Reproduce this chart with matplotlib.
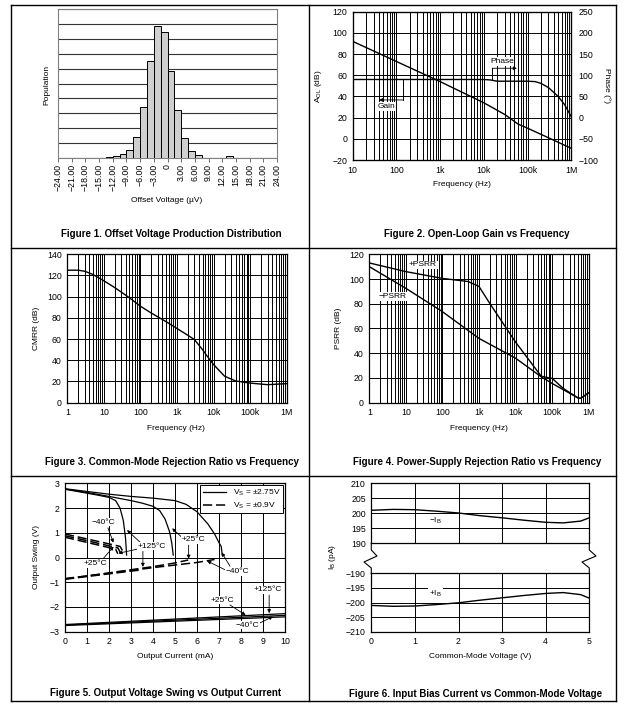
import numpy as np
import matplotlib
matplotlib.use('Agg')
import matplotlib.pyplot as plt
from matplotlib.lines import Line2D
from matplotlib.ticker import FixedLocator, NullFormatter

plt.rcParams['font.family'] = ['Liberation Sans', 'DejaVu Sans']
plt.rcParams['font.size'] = 6
plt.rcParams['xtick.labelsize'] = 6.3
plt.rcParams['ytick.labelsize'] = 6.3
plt.rcParams['mathtext.fontset'] = 'custom'
plt.rcParams['mathtext.rm'] = 'Liberation Sans'
plt.rcParams['mathtext.it'] = 'Liberation Sans'

# Figure 1 : offset voltage histogram
offset_centers = [-12.75, -11.25, -9.75, -8.25, -6.75, -5.25, -3.75, -2.25, -0.75,
                  0.75, 2.25, 3.75, 5.25, 6.75, 13.5]
offset_counts = [0.08, 0.12, 0.27, 0.5, 1.4, 3.4, 6.5, 8.85, 8.5,
                 5.85, 3.2, 1.3, 0.47, 0.15, 0.13]
offset_ticks = [-24, -21, -18, -15, -12, -9, -6, -3, 0, 3, 6, 9, 12, 15, 18, 21, 24]
offset_labels = ['\u221224.00', '\u221221.00', '\u221218.00', '\u221215.00', '\u221212.00',
                 '\u22129.00', '\u22126.00', '\u22123.00', '0', '3.00', '6.00', '9.00',
                 '12.00', '15.00', '18.00', '21.00', '24.00']

# Figure 2 : open-loop gain / phase
gain_freq = [10, 100, 1e3, 1e4, 3e4, 6e4, 1e5, 3e5, 1e6]
gain_db = [92, 73, 54, 34, 23, 14, 10, 1, -9]
phase_freq = [10, 1e3, 1e4, 1.4e4, 2e4, 5e4, 1e5, 1.5e5, 2e5, 3e5, 5e5, 7e5, 1e6]
phase_deg = [90, 90, 90, 89, 86, 86, 86, 85, 81, 71, 50, 31, 2]

# Figure 3 : CMRR
cmrr_freq = [1, 2, 3, 5, 10, 20, 50, 100, 200, 500, 1e3, 2e3, 3e3, 5e3, 7e3, 1e4,
             2e4, 4e4, 1e5, 3e5, 1e6]
cmrr_db = [125, 125, 124, 121, 115, 108.5, 99, 91, 84.5, 76.5, 70, 63.5, 59.5, 50, 43, 36,
           25, 20.5, 18.5, 17, 18]

# Figure 4 : PSRR
psrr_freq = [1, 10, 100, 500, 1e3, 2e3, 1e4, 5e4, 7e4, 1e5, 2e5, 5e5, 6e5, 1e6]
psrr_pos = [113, 106, 100.5, 98, 94, 80, 49, 21.5, 20.5, 19.7, 11.6, 4, 3.5, 8]
psrr_neg_freq = [1, 10, 100, 1e3, 1e4, 5e4, 1e5, 5e5, 6e5, 1e6]
psrr_neg = [110, 92.5, 73.6, 52, 36, 21, 15.6, 4, 3.5, 8]

# Figure 5 : output swing vs output current
i_hot = [0, 0.5, 1, 1.5, 2, 2.3, 2.5, 2.65, 2.75, 2.8]
v_hot = [2.76, 2.68, 2.6, 2.52, 2.43, 2.3, 2.0, 1.5, 0.8, 0.1]
i_room = [0, 1, 2, 3, 3.5, 4, 4.3, 4.55, 4.75, 4.85, 4.92]
v_room = [2.77, 2.63, 2.47, 2.3, 2.2, 2.07, 1.9, 1.55, 1.05, 0.6, 0.1]
i_cold = [0, 1, 2, 3, 4, 5, 5.5, 6, 6.5, 6.8, 7.0, 7.1, 7.15]
v_cold = [2.78, 2.67, 2.56, 2.47, 2.4, 2.3, 2.15, 1.85, 1.35, 0.95, 0.6, 0.45, 0.1]
i_lo_cold = [0, 1, 2, 2.5, 2.7]
v_lo_cold = [0.95, 0.75, 0.55, 0.45, 0.15]
i_lo_room = [0, 1, 2, 2.4, 2.55]
v_lo_room = [0.88, 0.68, 0.47, 0.39, 0.15]
i_lo_hot = [0, 1, 2, 2.3, 2.4]
v_lo_hot = [0.82, 0.61, 0.4, 0.34, 0.15]
i_lon_hot = [0, 1, 2, 3, 3.5]
v_lon_hot = [-0.88, -0.77, -0.66, -0.55, -0.5]
i_lon_room = [0, 2, 4, 5, 5.6]
v_lon_room = [-0.87, -0.62, -0.37, -0.22, -0.1]
i_lon_cold = [0, 2, 4, 6, 6.8]
v_lon_cold = [-0.85, -0.64, -0.41, -0.2, -0.08]
i_neg = [0, 10]
v_neg_hot = [-2.71, -2.27]
v_neg_room = [-2.73, -2.34]
v_neg_cold = [-2.75, -2.4]

# Figure 6 : input bias current
vcm = [0, 0.5, 1, 1.5, 2, 2.5, 3, 3.5, 4, 4.4, 4.8, 5]
ib_minus = [201, 201.3, 201.2, 200.7, 200.1, 199.2, 198.5, 197.7, 197.0, 196.8, 197.4, 198.5]
ib_plus = [-201, -201.3, -201.2, -200.7, -200.1, -199.2, -198.4, -197.6, -196.9, -196.6, -197.3, -198.5]

W, H = 624, 715
fig = plt.figure(figsize=(W / 100, H / 100), dpi=100)


def box(l, t, r, b):
    return fig.add_axes([l / W, 1 - b / H, (r - l) / W, (b - t) / H])


def fline(xs, ys, lw=1.0):
    fig.add_artist(Line2D([x / W for x in xs], [1 - y / H for y in ys],
                          transform=fig.transFigure, color='k', lw=lw))


def ftext(x, y, s, **kw):
    fig.text(x / W, 1 - y / H, s, ha='center', va='center', **kw)


def arrow(ax, xy, xytext):
    ax.annotate('', xy=xy, xytext=xytext,
                arrowprops=dict(arrowstyle='-|>', color='k', lw=0.6, mutation_scale=5,
                                shrinkA=0, shrinkB=0))


WHITE = dict(facecolor='white', edgecolor='none', pad=0.6)

# outer table lines
fline([11, 616], [5, 5])
fline([11, 616], [248, 248])
fline([11, 616], [476, 476])
fline([11, 616], [701, 701])
fline([11, 11], [5, 701])
fline([616, 616], [5, 701])
fline([309, 309], [5, 701])

# ---------- Figure 1
ax1 = box(58, 9.3, 277, 157.7)
ax1.bar(offset_centers, offset_counts, width=1.5, color='#cfcfcf', edgecolor='k', lw=0.7, zorder=3)
ax1.set_xlim(-24, 24)
ax1.set_ylim(0, 10)
ax1.set_yticks(range(0, 11))
ax1.set_yticklabels([])
ax1.tick_params(axis='y', length=0)
ax1.set_xticks(offset_ticks)
ax1.set_xticklabels(offset_labels, rotation=90)
ax1.tick_params(axis='x', direction='out', length=3, width=0.6, color='#555555', pad=1.5)
ax1.grid(axis='y', color='#333333', lw=0.8)
ax1.set_axisbelow(True)
for s in ax1.spines.values():
    s.set_color('#808080')
ftext(46.5, 85, 'Population', rotation=90)
ftext(167, 201, 'Offset Voltage (\u00b5V)')
ftext(171, 234, 'Figure 1. Offset Voltage Production Distribution', fontsize=7, fontweight='bold')


def log_grid(ax, lo, hi, labels):
    ax.set_xscale('log')
    ax.set_xlim(lo, hi)
    majors = [10.0 ** k for k in range(int(np.log10(lo)), int(np.log10(hi)) + 1)]
    ax.xaxis.set_major_locator(FixedLocator(majors))
    ax.set_xticklabels(labels)
    minors = [m * d for d in majors[:-1] for m in range(2, 10)]
    ax.xaxis.set_minor_locator(FixedLocator(minors))
    ax.xaxis.set_minor_formatter(NullFormatter())
    ax.grid(True, which='both', axis='x', color='k', lw=0.7)
    ax.grid(True, which='major', axis='y', color='k', lw=0.7)
    ax.tick_params(which='both', length=0, pad=4)
    for s in ax.spines.values():
        s.set_linewidth(0.9)


# ---------- Figure 2
ax2 = box(352.7, 11.7, 571.3, 160)
ax2.plot(gain_freq, gain_db, color='k', lw=1.0, zorder=3)
ax2b = ax2.twinx()
ax2b.plot(phase_freq, phase_deg, color='k', lw=1.0)
ax2b.set_ylim(-100, 250)
ax2b.set_yticks(range(-100, 251, 50))
ax2b.tick_params(length=0, pad=5)
log_grid(ax2, 10, 1e6, ['10', '100', '1k', '10k', '100k', '1M'])
ax2.set_ylim(-20, 120)
ax2.set_yticks(range(-20, 121, 20))
# axis call-outs
ax2.plot([139, 139], [55.6, 36.7], color='k', lw=0.7)
arrow(ax2, (40, 36.7), (139, 36.7))
ax2.text(60, 30.3, 'Gain', ha='center', va='center', bbox=WHITE, zorder=5)
ax2.plot([15500, 15500], [55.6, 66.6], color='k', lw=0.7)
arrow(ax2, (57000, 66.6), (15500, 66.6))
ax2.text(25700, 73.3, 'Phase', ha='center', va='center', bbox=WHITE, zorder=5)
ftext(319, 86, 'A$_{\\mathregular{OL}}$ (dB)', rotation=90)
ftext(607, 86, 'Phase (\u00b0)', rotation=270)
ftext(462, 185, 'Frequency (Hz)')
ftext(477, 234.3, 'Figure 2. Open-Loop Gain vs Frequency', fontsize=7, fontweight='bold')

# ---------- Figure 3
ax3 = box(67.3, 254.3, 286.7, 402.7)
ax3.plot(cmrr_freq, cmrr_db, color='k', lw=1.0, zorder=3)
log_grid(ax3, 1, 1e6, ['1', '10', '100', '1k', '10k', '100k', '1M'])
ax3.set_ylim(0, 140)
ax3.set_yticks(range(0, 141, 20))
ftext(36, 328, 'CMRR (dB)', rotation=90)
ftext(176, 428.3, 'Frequency (Hz)')
ftext(171.7, 462.3, 'Figure 3. Common-Mode Rejection Ratio vs Frequency', fontsize=7, fontweight='bold')

# ---------- Figure 4
ax4 = box(369.3, 254.3, 588.7, 402.7)
ax4.plot(psrr_freq, psrr_pos, color='k', lw=1.0, zorder=3)
ax4.plot(psrr_neg_freq, psrr_neg, color='k', lw=1.0, zorder=3)
log_grid(ax4, 1, 1e6, ['1', '10', '100', '1k', '10k', '100k', '1M'])
ax4.set_ylim(0, 120)
ax4.set_yticks(range(0, 121, 20))
ax4.text(29, 111.4, '+PSRR', ha='center', va='center', bbox=WHITE, zorder=5)
ax4.text(4.2, 85.7, '\u2212PSRR', ha='center', va='center', bbox=WHITE, zorder=5)
ftext(338.7, 328, 'PSRR (dB)', rotation=90)
ftext(479, 428.3, 'Frequency (Hz)')
ftext(476.8, 462.3, 'Figure 4. Power-Supply Rejection Ratio vs Frequency', fontsize=7, fontweight='bold')

# ---------- Figure 5
ax5 = box(65, 483.3, 285, 631.7)
dash = (0, (6, 2.5))
for xs, ys in [(i_hot, v_hot), (i_room, v_room), (i_cold, v_cold),
               (i_neg, v_neg_hot), (i_neg, v_neg_room), (i_neg, v_neg_cold)]:
    ax5.plot(xs, ys, color='k', lw=0.9, zorder=3)
for xs, ys in [(i_lo_cold, v_lo_cold), (i_lo_room, v_lo_room), (i_lo_hot, v_lo_hot),
               (i_lon_hot, v_lon_hot), (i_lon_room, v_lon_room), (i_lon_cold, v_lon_cold)]:
    ax5.plot(xs, ys, color='k', lw=1.1, ls=dash, zorder=3)
ax5.set_xlim(0, 10)
ax5.set_ylim(-3, 3)
ax5.set_xticks(range(0, 11))
ax5.set_yticks(range(-3, 4))
ax5.grid(True, color='k', lw=0.7)
ax5.tick_params(length=0, pad=4)
for s in ax5.spines.values():
    s.set_linewidth(0.9)
leg = ax5.legend([Line2D([], [], color='k', lw=0.9), Line2D([], [], color='k', lw=1.1, ls=dash)],
                 ['V$_\\mathregular{S}$ = \u00b12.75V', 'V$_\\mathregular{S}$ = \u00b10.9V'],
                 loc='upper right', fancybox=False, framealpha=1, edgecolor='k',
                 handlelength=2.8, borderaxespad=0.25, borderpad=0.3, labelspacing=0.3)
leg.get_frame().set_linewidth(0.7)
leg.set_zorder(6)
t5 = dict(ha='center', va='center', bbox=WHITE, zorder=5)
ax5.text(1.74, 1.43, '\u221240\u00b0C', **t5)
arrow(ax5, (2.2, 0.6), (1.95, 1.2))
ax5.text(1.37, -0.23, '+25\u00b0C', **t5)
arrow(ax5, (2.21, 0.44), (1.75, -0.03))
ax5.text(3.95, 0.46, '+125\u00b0C', **t5)
arrow(ax5, (2.82, 1.11), (3.43, 0.6))
arrow(ax5, (2.43, 0.17), (3.35, 0.35))
arrow(ax5, (3.54, -0.38), (3.54, 0.25))
ax5.text(5.85, 0.71, '+25\u00b0C', **t5)
arrow(ax5, (4.87, 1.18), (5.33, 0.8))
arrow(ax5, (5.62, -0.05), (5.62, 0.5))
ax5.text(7.83, -0.57, '\u221240\u00b0C', **t5)
arrow(ax5, (6.46, -0.14), (7.4, -0.55))
arrow(ax5, (7.12, 0.2), (7.5, -0.35))
ax5.text(9.2, -1.31, '+125\u00b0C', **t5)
arrow(ax5, (9.28, -2.25), (9.28, -1.52))
ax5.text(7.16, -1.72, '+25\u00b0C', **t5)
arrow(ax5, (8.21, -2.33), (7.5, -1.92))
ax5.text(8.3, -2.73, '\u221240\u00b0C', **t5)
arrow(ax5, (9.45, -2.39), (8.85, -2.65))
ftext(36.7, 557, 'Output Swing (V)', rotation=90)
ftext(175, 656.7, 'Output Current (mA)')
ftext(165.3, 693.3, 'Figure 5. Output Voltage Swing vs Output Current', fontsize=7, fontweight='bold')

# ---------- Figure 6 (broken y axis)
ax6t = box(371.3, 483.3, 589.3, 543.3)
ax6b = box(371.3, 573.3, 589.3, 631.7)
ax6t.plot(vcm, ib_minus, color='k', lw=1.0, zorder=3)
ax6b.plot(vcm, ib_plus, color='k', lw=1.0, zorder=3)
ax6t.set_ylim(190, 210)
ax6t.set_yticks(range(190, 211, 5))
ax6b.set_ylim(-210, -190)
ax6b.set_yticks(range(-210, -189, 5))
for a in (ax6t, ax6b):
    a.set_xlim(0, 5)
    a.set_xticks(range(0, 6))
    a.grid(True, color='k', lw=0.7)
    a.tick_params(length=0, pad=4)
    for s in a.spines.values():
        s.set_linewidth(0.9)
ax6t.set_xticklabels([])
ax6t.text(1.47, 197.4, '\u2212I$_\\mathregular{B}$', ha='center', va='center', bbox=WHITE, zorder=5)
ax6b.text(1.47, -196.9, '+I$_\\mathregular{B}$', ha='center', va='center', bbox=WHITE, zorder=5)
fline([371.3, 371.3, 377, 364, 371.3, 371.3], [543.3, 550, 556, 562, 568, 573.3], lw=0.8)
fline([589.3, 589.3, 596, 582, 589.3, 589.3], [543.3, 550, 556, 562, 568, 573.3], lw=0.8)
ftext(332.7, 557, 'I$_\\mathregular{B}$ (pA)', rotation=90)
ftext(480, 657, 'Common-Mode Voltage (V)')
ftext(476, 694.3, 'Figure 6. Input Bias Current vs Common-Mode Voltage', fontsize=7, fontweight='bold')

fig.savefig('out.png', dpi=100)
